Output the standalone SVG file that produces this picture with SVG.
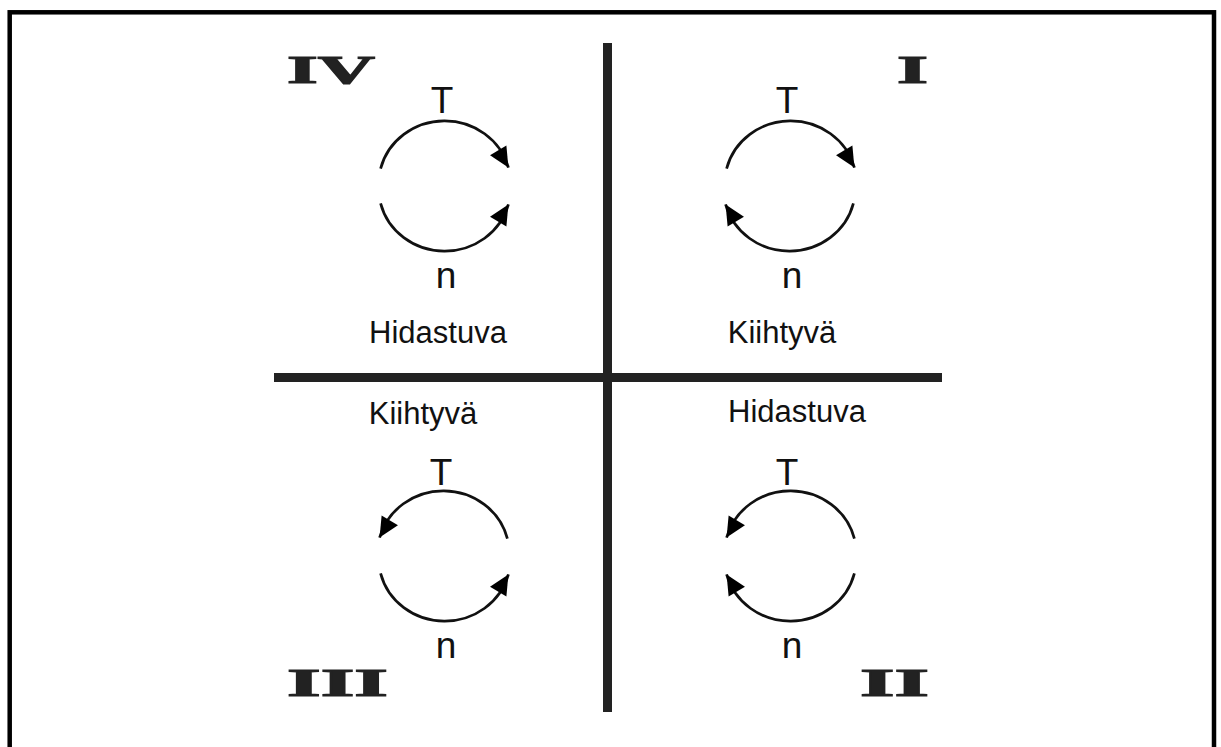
<svg xmlns="http://www.w3.org/2000/svg" width="1221" height="747" viewBox="0 0 1221 747">
<style>
.arc{fill:none;stroke:#111;stroke-width:2.7}
.lbl{font-family:"Liberation Sans",Arial,sans-serif;font-size:31px;fill:#111;text-anchor:middle}
.var{font-family:"Liberation Sans",Arial,sans-serif;font-size:37px;fill:#111;text-anchor:middle}
.rom{font-family:"Liberation Serif","Times New Roman",serif;font-weight:bold;font-size:40px;fill:#222;stroke:#222;stroke-width:1.2}
.bar{fill:#222}
.cw{marker-end:url(#ahcw)}
.ccw{marker-end:url(#ahccw)}
</style>
<defs>
<marker id="ahcw" markerUnits="userSpaceOnUse" markerWidth="30" markerHeight="30" refX="0" refY="0" orient="auto" overflow="visible">
<path d="M0,0 L-20,-9.5 L-20,9.5 Z" fill="#000" transform="rotate(-15)"/>
</marker>
<marker id="ahccw" markerUnits="userSpaceOnUse" markerWidth="30" markerHeight="30" refX="0" refY="0" orient="auto" overflow="visible">
<path d="M0,0 L-20,-9.5 L-20,9.5 Z" fill="#000" transform="rotate(15)"/>
</marker>
</defs>
<rect x="0" y="0" width="1221" height="747" fill="#fff"/>
<rect x="9.7" y="12.3" width="1204.3" height="745" fill="none" stroke="#000" stroke-width="4.5"/>
<g id="axes">
<rect class="bar" x="603" y="43" width="9" height="669"/>
<rect class="bar" x="274" y="373" width="668" height="9"/>
</g>
<g id="quadrant-IV">
<text class="rom" x="287" y="83" textLength="88" lengthAdjust="spacingAndGlyphs">IV</text>
<text class="var" x="442" y="113">T</text>
<text class="var" x="446" y="288">n</text>
<text class="lbl" x="438" y="343">Hidastuva</text>
</g>
<g id="quadrant-I">
<text class="rom" x="897" y="83" textLength="31" lengthAdjust="spacingAndGlyphs">I</text>
<text class="var" x="787" y="113">T</text>
<text class="var" x="792" y="288">n</text>
<text class="lbl" x="782" y="343">Kiihtyvä</text>
</g>
<g id="quadrant-III">
<text class="rom" x="287" y="696" textLength="101" lengthAdjust="spacingAndGlyphs">III</text>
<text class="var" x="441" y="485">T</text>
<text class="var" x="446" y="658">n</text>
<text class="lbl" x="423" y="424">Kiihtyvä</text>
</g>
<g id="quadrant-II">
<text class="rom" x="860" y="696" textLength="69" lengthAdjust="spacingAndGlyphs">II</text>
<text class="var" x="787" y="485">T</text>
<text class="var" x="792" y="658">n</text>
<text class="lbl" x="797" y="422">Hidastuva</text>
</g>
<g id="connectors">
<path class="arc cw" d="M380.6,168.6 A66,63 0 0 1 508.4,167.6"/>
<path class="arc ccw" d="M380.6,203.4 A66,63 0 0 0 508.4,204.4"/>
<path class="arc cw" d="M726.6,168.6 A66,63 0 0 1 854.4,167.6"/>
<path class="arc cw" d="M853.4,203.4 A66,63 0 0 1 725.6,204.4"/>
<path class="arc ccw" d="M507.4,538.6 A66,63 0 0 0 379.6,537.6"/>
<path class="arc ccw" d="M380.6,573.4 A66,63 0 0 0 508.4,574.4"/>
<path class="arc ccw" d="M854.4,538.6 A66,63 0 0 0 726.6,537.6"/>
<path class="arc cw" d="M854.4,573.4 A66,63 0 0 1 726.6,574.4"/>
</g>
</svg>
